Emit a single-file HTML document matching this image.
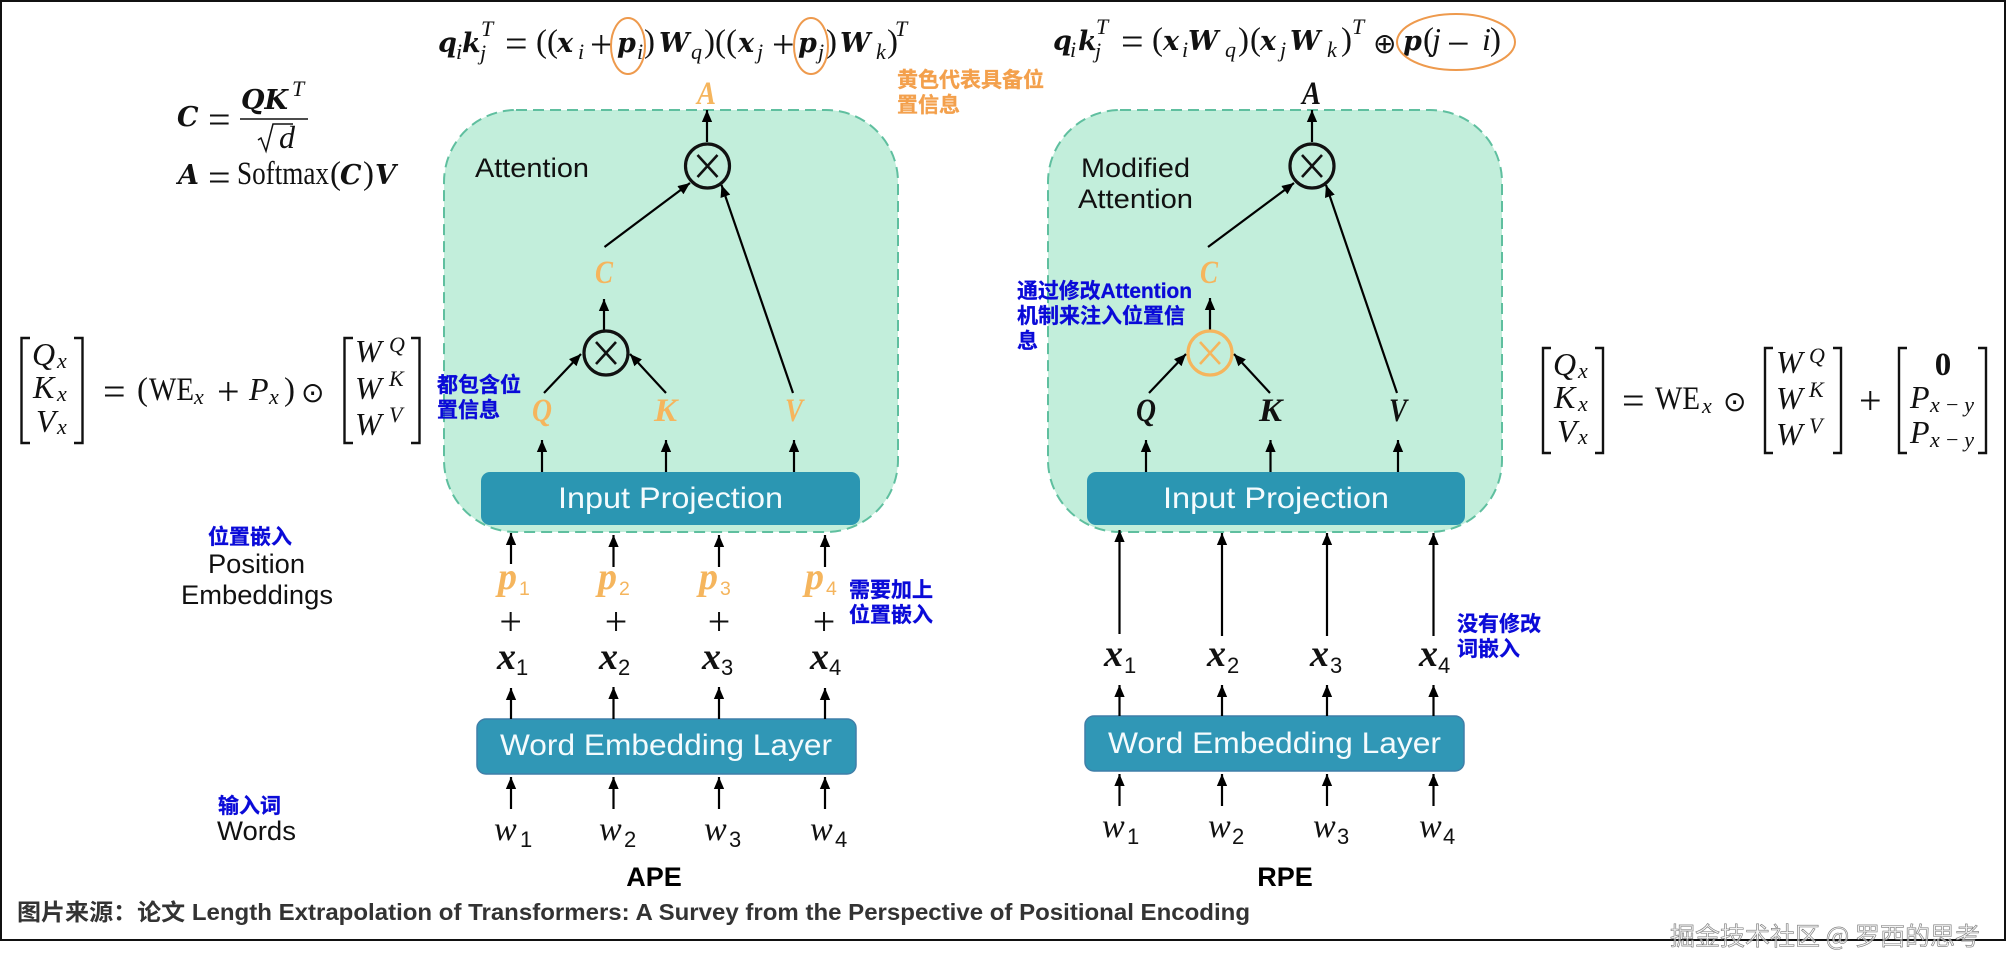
<!DOCTYPE html>
<html><head><meta charset="utf-8"><style>
html,body{margin:0;padding:0;background:#fff}
svg{display:block}
text{font-family:"Liberation Serif","Noto Serif CJK SC",serif;fill:#111}
.m{font-size:33px}
.op{font-size:40px}
.mi{font-size:32px;font-style:italic}
.mb{font-family:"DejaVu Serif",serif;font-size:27px;font-style:italic;font-weight:bold}
.s{font-size:22px;font-style:italic}
.o{fill:#f5b55d}
.v{font-size:33px;font-style:italic;font-weight:bold}
.big{font-size:38px;font-style:italic;font-weight:bold}
.w{font-size:34px;font-style:italic}
.d{font-family:"Liberation Sans",sans-serif;font-size:22px}
.ps{font-family:"Liberation Sans",sans-serif;font-size:19.5px}
.sym{font-family:"DejaVu Sans",sans-serif;font-size:28px}
.ds{font-family:"Liberation Sans",sans-serif;font-size:27px;fill:#111}
.wt{font-family:"Liberation Sans",sans-serif;font-size:30px;fill:#f4fbfd}
.b{font-family:"Liberation Sans","Noto Sans CJK SC",sans-serif;font-size:21px;font-weight:bold;fill:#0a0ad8;stroke:#0a0ad8;stroke-width:.3}
.y{font-family:"Liberation Sans","Noto Sans CJK SC",sans-serif;font-size:21px;font-weight:bold;fill:#f3a04c;stroke:#f3a04c;stroke-width:.3}
.h{font-family:"Liberation Sans",sans-serif;font-size:27px;font-weight:bold;fill:#000}
.c{font-family:"Liberation Sans","Noto Sans CJK SC",sans-serif;font-size:23px;font-weight:bold;fill:#333}
.wm{font-family:"Noto Sans CJK SC",sans-serif;font-size:25px;fill:rgba(235,235,235,.6);stroke:#777;stroke-width:.6}
.l line{stroke:#000;stroke-width:2.2;marker-end:url(#a)}
.br{fill:none;stroke:#111;stroke-width:2.4}
</style></head><body>
<svg width="2006" height="974" viewBox="0 0 2006 974" xmlns="http://www.w3.org/2000/svg">
<defs><marker id="a" markerUnits="userSpaceOnUse" markerWidth="12" markerHeight="14" viewBox="0 0 14 12" refX="14" refY="6" orient="auto"><path d="M0 0L14 6L0 12z" fill="#000"/></marker></defs>
<rect width="2006" height="974" fill="#fff"/>
<path d="M1 1H2005V940H1Z" fill="none" stroke="#111" stroke-width="2"/>

<!-- panels -->
<rect x="444" y="110" width="454" height="422" rx="72" ry="72" fill="#c2eedb" stroke="#5fbf9f" stroke-width="2" stroke-dasharray="11 6"/>
<rect x="1048" y="110" width="454" height="422" rx="72" ry="72" fill="#c2eedb" stroke="#5fbf9f" stroke-width="2" stroke-dasharray="11 6"/>
<rect x="481" y="472" width="379" height="53" rx="9" fill="#2b96b2"/>
<rect x="1087" y="472" width="378" height="53" rx="9" fill="#2b96b2"/>
<rect x="477" y="719" width="379" height="55" rx="9" fill="#3097b6" stroke="#3f7fa8" stroke-width="1.5"/>
<rect x="1085" y="716" width="379" height="55" rx="9" fill="#3097b6" stroke="#3f7fa8" stroke-width="1.5"/>

<text class="wt" x="558" y="508" textLength="225" lengthAdjust="spacingAndGlyphs">Input Projection</text>
<text class="wt" x="1163" y="508" textLength="226" lengthAdjust="spacingAndGlyphs">Input Projection</text>
<text class="wt" x="500" y="755" textLength="332" lengthAdjust="spacingAndGlyphs">Word Embedding Layer</text>
<text class="wt" x="1108" y="753" textLength="333" lengthAdjust="spacingAndGlyphs">Word Embedding Layer</text>

<!-- arrows left -->
<g class="l">
<line x1="511" y1="809" x2="511" y2="777"/><line x1="613.500" y1="809" x2="613.500" y2="777"/><line x1="719" y1="809" x2="719" y2="777"/><line x1="825" y1="809" x2="825" y2="777"/>
<line x1="511" y1="719" x2="511" y2="688"/><line x1="613.500" y1="719" x2="613.500" y2="687"/><line x1="719" y1="719" x2="719" y2="687"/><line x1="825" y1="719" x2="825" y2="688"/>
<line x1="511" y1="564" x2="511" y2="533"/><line x1="613.500" y1="567" x2="613.500" y2="535"/><line x1="719" y1="567" x2="719" y2="535"/><line x1="825" y1="567" x2="825" y2="535"/>
<line x1="542" y1="472" x2="542" y2="440"/><line x1="666" y1="472" x2="666" y2="440"/><line x1="794" y1="472" x2="794" y2="440"/>
<line x1="544" y1="393" x2="581" y2="354"/><line x1="666" y1="393" x2="630" y2="354"/>
<line x1="604" y1="331" x2="604" y2="299"/>
<line x1="604.500" y1="247" x2="690" y2="183"/>
<line x1="793" y1="393" x2="721.500" y2="185"/>
<line x1="707" y1="142" x2="707" y2="110"/>
</g>
<!-- arrows right -->
<g class="l">
<line x1="1119.500" y1="806" x2="1119.500" y2="774"/><line x1="1222" y1="806" x2="1222" y2="774"/><line x1="1327" y1="806" x2="1327" y2="774"/><line x1="1433.500" y1="806" x2="1433.500" y2="774"/>
<line x1="1119.500" y1="716" x2="1119.500" y2="685"/><line x1="1222" y1="716" x2="1222" y2="685"/><line x1="1327" y1="716" x2="1327" y2="685"/><line x1="1433.500" y1="716" x2="1433.500" y2="685"/>
<line x1="1119.500" y1="634" x2="1119.500" y2="530"/><line x1="1222" y1="636" x2="1222" y2="533"/><line x1="1327" y1="636" x2="1327" y2="533"/><line x1="1433.500" y1="636" x2="1433.500" y2="533"/>
<line x1="1146" y1="472" x2="1146" y2="440"/><line x1="1270.500" y1="472" x2="1270.500" y2="440"/><line x1="1398" y1="472" x2="1398" y2="440"/>
<line x1="1149" y1="393" x2="1186" y2="354"/><line x1="1270" y1="393" x2="1234" y2="354"/>
<line x1="1210" y1="331" x2="1210" y2="298"/>
<line x1="1208" y1="247" x2="1294" y2="183"/>
<line x1="1397" y1="393" x2="1326" y2="185"/>
<line x1="1312" y1="142" x2="1312" y2="110"/>
</g>

<!-- otimes -->
<g fill="none" stroke="#111" stroke-width="3.2">
<circle cx="606" cy="353" r="22"/><path d="M596 342L616 364M616 342L596 364" stroke-width="2.6"/>
<circle cx="707.500" cy="166" r="22"/><path d="M697.500 155L717.500 177M717.500 155L697.500 177" stroke-width="2.6"/>
<circle cx="1312" cy="166" r="22"/><path d="M1302 155L1322 177M1322 155L1302 177" stroke-width="2.6"/>
</g>
<g fill="none" stroke="#f5b55d" stroke-width="3.2">
<circle cx="1210" cy="353" r="22"/><path d="M1200 342L1220 364M1220 342L1200 364" stroke-width="2.6"/>
</g>

<!-- left vars -->
<text class="v o" x="532" y="421" textLength="20" lengthAdjust="spacingAndGlyphs">Q</text>
<text class="v o" x="654" y="421" textLength="23" lengthAdjust="spacingAndGlyphs">K</text>
<text class="v o" x="785" y="421" textLength="18" lengthAdjust="spacingAndGlyphs">V</text>
<text class="v o" x="595" y="283" textLength="18" lengthAdjust="spacingAndGlyphs">C</text>
<text class="v o" x="697" y="104" textLength="19" lengthAdjust="spacingAndGlyphs">A</text>
<!-- right vars -->
<text class="v" x="1136" y="421" textLength="20" lengthAdjust="spacingAndGlyphs">Q</text>
<text class="v" x="1259" y="421" textLength="23" lengthAdjust="spacingAndGlyphs">K</text>
<text class="v" x="1389" y="421" textLength="18" lengthAdjust="spacingAndGlyphs">V</text>
<text class="v o" x="1200" y="283" textLength="18" lengthAdjust="spacingAndGlyphs">C</text>
<text class="v" x="1302" y="104" textLength="19" lengthAdjust="spacingAndGlyphs">A</text>

<!-- p row -->
<text class="big o" x="498" y="589">p</text><text class="ps o" x="519" y="595">1</text>
<text class="big o" x="598" y="589">p</text><text class="ps o" x="619" y="595">2</text>
<text class="big o" x="699" y="589">p</text><text class="ps o" x="720" y="595">3</text>
<text class="big o" x="805" y="589">p</text><text class="ps o" x="826" y="595">4</text>
<!-- plus -->
<g class="op"><text x="510.700" y="635" text-anchor="middle">+</text><text x="616" y="635" text-anchor="middle">+</text><text x="719" y="635" text-anchor="middle">+</text><text x="824" y="635" text-anchor="middle">+</text></g>
<!-- x row left -->
<text class="big" x="497" y="669">x</text><text class="d" x="516" y="675">1</text>
<text class="big" x="599" y="669">x</text><text class="d" x="618" y="675">2</text>
<text class="big" x="702" y="669">x</text><text class="d" x="721" y="675">3</text>
<text class="big" x="810" y="669">x</text><text class="d" x="829" y="675">4</text>
<!-- w row left -->
<text class="w" x="494" y="840">w</text><text class="d" x="520" y="847">1</text>
<text class="w" x="599" y="840">w</text><text class="d" x="624" y="847">2</text>
<text class="w" x="704" y="840">w</text><text class="d" x="729" y="847">3</text>
<text class="w" x="810" y="840">w</text><text class="d" x="835" y="847">4</text>
<!-- x row right -->
<text class="big" x="1104" y="666">x</text><text class="d" x="1124" y="673">1</text>
<text class="big" x="1207" y="666">x</text><text class="d" x="1227" y="673">2</text>
<text class="big" x="1310" y="666">x</text><text class="d" x="1330" y="673">3</text>
<text class="big" x="1419" y="666">x</text><text class="d" x="1438" y="673">4</text>
<!-- w row right -->
<text class="w" x="1102" y="837">w</text><text class="d" x="1127" y="844">1</text>
<text class="w" x="1208" y="837">w</text><text class="d" x="1232" y="844">2</text>
<text class="w" x="1313" y="837">w</text><text class="d" x="1337" y="844">3</text>
<text class="w" x="1419" y="837">w</text><text class="d" x="1443" y="844">4</text>

<!-- sans labels -->
<text class="ds" x="475" y="177" textLength="114" lengthAdjust="spacingAndGlyphs">Attention</text>
<text class="ds" x="1081" y="177" textLength="109" lengthAdjust="spacingAndGlyphs">Modified</text>
<text class="ds" x="1078" y="208" textLength="115" lengthAdjust="spacingAndGlyphs">Attention</text>
<text class="ds" x="208" y="573" textLength="97" lengthAdjust="spacingAndGlyphs">Position</text>
<text class="ds" x="181" y="604" textLength="152" lengthAdjust="spacingAndGlyphs">Embeddings</text>
<text class="ds" x="217" y="840" textLength="79" lengthAdjust="spacingAndGlyphs">Words</text>
<text class="h" x="654" y="886" text-anchor="middle">APE</text>
<text class="h" x="1285" y="886" text-anchor="middle">RPE</text>
<text class="c" x="17" y="920" textLength="1233" lengthAdjust="spacingAndGlyphs">图片来源：论文 Length Extrapolation of Transformers: A Survey from the Perspective of Positional Encoding</text>

<!-- notes -->
<text class="b" x="437" y="392">都包含位</text><text class="b" x="437" y="417">置信息</text>
<text class="y" x="897" y="87">黄色代表具备位</text><text class="y" x="897" y="112">置信息</text>
<text class="b" x="1017" y="298" textLength="175" lengthAdjust="spacingAndGlyphs">通过修改Attention</text><text class="b" x="1017" y="323">机制来注入位置信</text><text class="b" x="1017" y="348">息</text>
<text class="b" x="849" y="597">需要加上</text><text class="b" x="849" y="622">位置嵌入</text>
<text class="b" x="1457" y="631">没有修改</text><text class="b" x="1457" y="656">词嵌入</text>
<text class="b" x="208" y="544">位置嵌入</text>
<text class="b" x="218" y="813">输入词</text>

<!-- top-left formula -->
<g>
<text class="mb" x="438" y="52">q</text><text class="s" x="456" y="59">i</text><text class="mb" x="462" y="52">k</text><text class="s" x="481" y="36">T</text><text class="s" x="480" y="60">j</text>
<text class="op" x="505" y="57">=</text><text class="m" x="536" y="52">((</text><text class="mb" x="557" y="52">x</text><text class="s" x="578" y="59">i</text><text class="op" x="590" y="58">+</text><text class="mb" x="617" y="52">p</text><text class="s" x="637" y="59">i</text><text class="m" x="644" y="52">)</text><text class="mb" x="659" y="52">W</text><text class="s" x="691" y="59">q</text><text class="m" x="704" y="52">)((</text><text class="mb" x="738" y="52">x</text><text class="s" x="757" y="59">j</text><text class="op" x="772" y="58">+</text><text class="mb" x="798" y="52">p</text><text class="s" x="818" y="59">j</text><text class="m" x="826" y="52">)</text><text class="mb" x="840" y="52">W</text><text class="s" x="876" y="59">k</text><text class="m" x="887" y="52">)</text><text class="s" x="895" y="36">T</text>
</g>
<ellipse cx="628" cy="46" rx="17" ry="28" fill="none" stroke="#ee9a4d" stroke-width="2"/>
<ellipse cx="811" cy="46" rx="17" ry="28" fill="none" stroke="#ee9a4d" stroke-width="2"/>

<!-- top-right formula -->
<g>
<text class="mb" x="1053" y="50">q</text><text class="s" x="1070" y="57">i</text><text class="mb" x="1078" y="50">k</text><text class="s" x="1096" y="34">T</text><text class="s" x="1095" y="58">j</text>
<text class="op" x="1121" y="55">=</text><text class="m" x="1152" y="50">(</text><text class="mb" x="1163" y="50">x</text><text class="s" x="1182" y="57">i</text><text class="mb" x="1188" y="50">W</text><text class="s" x="1225" y="57">q</text><text class="m" x="1238" y="50">)</text><text class="m" x="1250" y="50">(</text><text class="mb" x="1260" y="50">x</text><text class="s" x="1280" y="57">j</text><text class="mb" x="1290" y="50">W</text><text class="s" x="1327" y="57">k</text><text class="m" x="1341" y="50">)</text><text class="s" x="1352" y="34">T</text>
<text class="sym" x="1373" y="53">⊕</text>
<text class="mb" x="1403" y="50">p</text><text class="m" x="1423" y="50">(</text><text class="mi" x="1432" y="50">j</text><text class="op" x="1447" y="57">−</text><text class="mi" x="1482" y="50">i</text><text class="m" x="1490" y="50">)</text>
</g>
<ellipse cx="1456" cy="42" rx="59" ry="28" fill="none" stroke="#ee9a4d" stroke-width="2"/>

<!-- C and A eq -->
<text class="mb" x="177" y="126">C</text><text class="op" x="208" y="133">=</text>
<text class="mb" x="241" y="109">QK</text><text class="s" x="292" y="96">T</text>
<line x1="240" y1="119" x2="308" y2="119" stroke="#111" stroke-width="1.6"/>
<path d="M258 140l3-2 5 13 7-27h20" fill="none" stroke="#111" stroke-width="1.5"/>
<text class="mi" x="279" y="148">d</text>
<text class="mb" x="178" y="184">A</text><text class="op" x="208" y="191">=</text><text class="m" x="237" y="184" textLength="92" lengthAdjust="spacingAndGlyphs">Softmax</text><text class="m" x="330" y="184">(</text><text class="mb" x="340" y="184">C</text><text class="m" x="363" y="184">)</text><text class="mb" x="375" y="184">V</text>

<!-- left matrix -->
<path class="br" d="M30 338H21.500V443H30M74 338H82.500V443H74"/>
<text class="mi" x="32" y="365">Q</text><text class="s" x="57" y="368">x</text>
<text class="mi" x="33" y="398">K</text><text class="s" x="57" y="401">x</text>
<text class="mi" x="36" y="432">V</text><text class="s" x="57" y="434">x</text>
<text class="op" x="103" y="405">=</text><text class="m" x="137" y="400">(</text><text class="m" x="149" y="400" textLength="45" lengthAdjust="spacingAndGlyphs">WE</text><text class="s" x="194" y="404">x</text><text class="op" x="217" y="405">+</text><text class="mi" x="249" y="400">P</text><text class="s" x="269" y="404">x</text><text class="m" x="284" y="400">)</text>
<text class="sym" x="301" y="402">⊙</text>
<path class="br" d="M353 338H344.500V443H353M411 338H419.500V443H411"/>
<text class="mi" x="355" y="362">W</text><text class="s" x="389" y="352">Q</text>
<text class="mi" x="355" y="399">W</text><text class="s" x="389" y="386">K</text>
<text class="mi" x="355" y="435">W</text><text class="s" x="389" y="422">V</text>

<!-- right matrix -->
<path class="br" d="M1551 348H1543V453H1551M1595 348H1603V453H1595"/>
<text class="mi" x="1553" y="375">Q</text><text class="s" x="1578" y="378">x</text>
<text class="mi" x="1554" y="408">K</text><text class="s" x="1578" y="411">x</text>
<text class="mi" x="1557" y="442">V</text><text class="s" x="1578" y="444">x</text>
<text class="op" x="1622" y="414">=</text><text class="m" x="1655" y="409" textLength="45" lengthAdjust="spacingAndGlyphs">WE</text><text class="s" x="1702" y="413">x</text>
<text class="sym" x="1723" y="411">⊙</text>
<path class="br" d="M1773 348H1765V453H1773M1833 348H1841V453H1833"/>
<text class="mi" x="1776" y="373">W</text><text class="s" x="1809" y="363">Q</text>
<text class="mi" x="1776" y="409">W</text><text class="s" x="1809" y="397">K</text>
<text class="mi" x="1776" y="445">W</text><text class="s" x="1809" y="433">V</text>
<text class="op" x="1859" y="414">+</text>
<path class="br" d="M1907 348H1899V453H1907M1978 348H1986V453H1978"/>
<text class="m" x="1943" y="375" text-anchor="middle" font-weight="bold">0</text>
<text class="mi" x="1910" y="408">P</text><text class="s" x="1930" y="412" textLength="44">x−y</text>
<text class="mi" x="1910" y="443">P</text><text class="s" x="1930" y="447" textLength="44">x−y</text>

<text class="wm" x="1670" y="945" textLength="310" lengthAdjust="spacing">掘金技术社区 @ 罗西的思考</text>
</svg>
</body></html>
